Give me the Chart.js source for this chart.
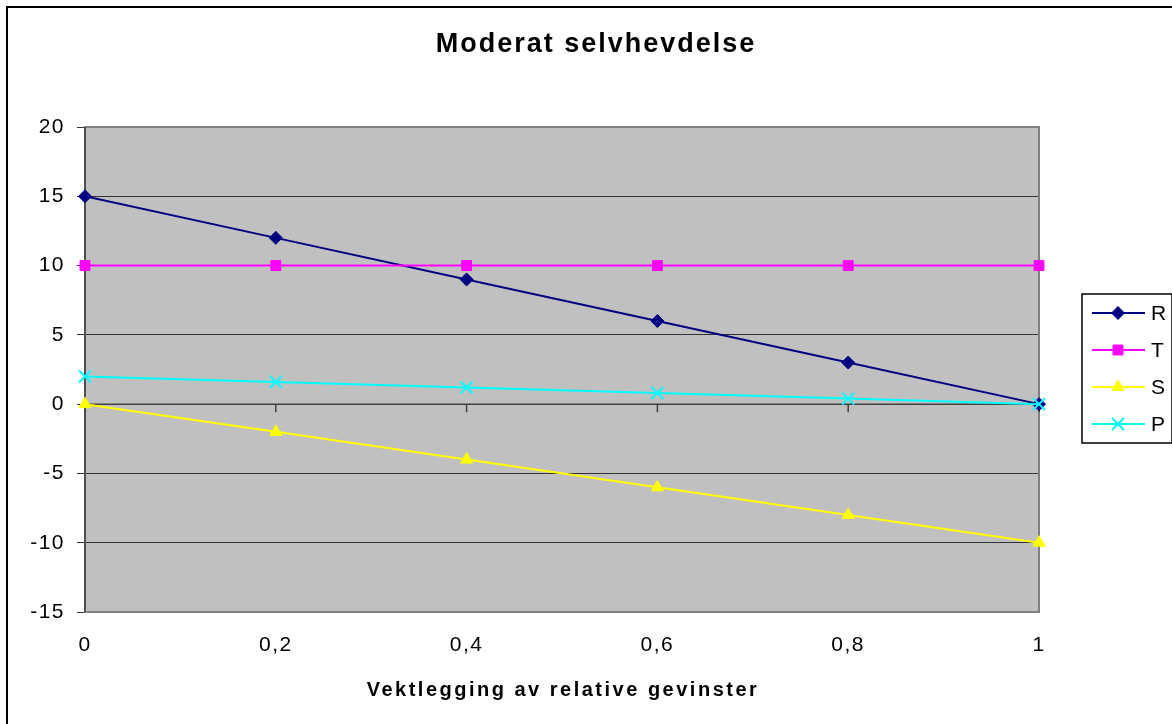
<!DOCTYPE html>
<html>
<head>
<meta charset="utf-8">
<script src="https://cdn.jsdelivr.net/npm/chart.js@4.4.1/dist/chart.umd.min.js"></script>
<style>
  html, body { margin: 0; padding: 0; background: #ffffff; }
  #wrap { width: 1172px; height: 724px; position: relative; }
</style>
</head>
<body>
<div id="wrap"><canvas id="c" width="1172" height="724"></canvas></div>
<script>
// ---- data ----
const chartTitle = 'Moderat selvhevdelse';
const xAxisTitle = 'Vektlegging av relative gevinster';
const xTickLabels = ['0', '0,2', '0,4', '0,6', '0,8', '1'];
const seriesNames = ['R', 'T', 'S', 'P'];
const seriesR = [15, 12, 9, 6, 3, 0];
const seriesT = [10, 10, 10, 10, 10, 10];
const seriesS = [0, -2, -4, -6, -8, -10];
const seriesP = [2, 1.6, 1.2, 0.8, 0.4, 0];
const yMin = -15, yMax = 20, yStep = 5;

// ---- styles ----
const FONT = "'Liberation Sans', Arial, sans-serif";
const TICK_SPACING = '1.5px';
const styles = [
  { color: '#000080', point: 'diamond', radius: 6.5 },
  { color: '#FF00FF', point: 'square', radius: 7 },
  { color: '#FFFF00', point: 'triangle', radius: 7 },
  { color: '#00FFFF', point: 'crossRot', radius: 8.5 }
];
const chartPointStyle = { diamond: 'rectRot', square: 'rect', triangle: 'triangle', crossRot: 'crossRot' };
const seriesValues = [seriesR, seriesT, seriesS, seriesP];

function drawMarker(ctx, kind, x, y, r, color) {
  ctx.save();
  ctx.fillStyle = color; ctx.strokeStyle = color; ctx.lineWidth = 1;
  ctx.beginPath();
  if (kind === 'diamond') {
    ctx.moveTo(x, y - r); ctx.lineTo(x + r, y); ctx.lineTo(x, y + r); ctx.lineTo(x - r, y); ctx.closePath();
    ctx.fill(); ctx.stroke();
  } else if (kind === 'square') {
    const s = r * Math.SQRT1_2;
    ctx.rect(x - s, y - s, 2 * s, 2 * s); ctx.fill(); ctx.stroke();
  } else if (kind === 'triangle') {
    ctx.moveTo(x, y - r);
    ctx.lineTo(x + r * Math.sin(2 * Math.PI / 3), y - r * Math.cos(2 * Math.PI / 3));
    ctx.lineTo(x + r * Math.sin(4 * Math.PI / 3), y - r * Math.cos(4 * Math.PI / 3));
    ctx.closePath(); ctx.fill(); ctx.stroke();
  } else {
    const o = r * Math.SQRT1_2;
    ctx.lineWidth = 2;
    ctx.moveTo(x - o, y - o); ctx.lineTo(x + o, y + o);
    ctx.moveTo(x + o, y - o); ctx.lineTo(x - o, y + o);
    ctx.stroke();
  }
  ctx.restore();
}

const excelPlugin = {
  id: 'excelLook',
  beforeDraw(chart) {
    const ctx = chart.ctx, a = chart.chartArea;
    ctx.save();
    ctx.fillStyle = '#ffffff';
    ctx.fillRect(0, 0, chart.width, chart.height);
    ctx.fillStyle = '#C0C0C0';
    ctx.fillRect(a.left, a.top, a.right - a.left, a.bottom - a.top);
    ctx.restore();
    ctx.letterSpacing = TICK_SPACING;
  },
  beforeDatasetsDraw(chart) {
    const ctx = chart.ctx, a = chart.chartArea;
    const xs = chart.scales.x, ys = chart.scales.y;
    ctx.save();
    ctx.strokeStyle = '#808080'; ctx.lineWidth = 2;
    ctx.strokeRect(a.left, a.top, a.right - a.left, a.bottom - a.top);
    ctx.strokeStyle = '#404040'; ctx.lineWidth = 1.5;
    ctx.beginPath(); ctx.moveTo(a.left, a.top); ctx.lineTo(a.left, a.bottom); ctx.stroke();
    const y0 = ys.getPixelForValue(0);
    ctx.beginPath(); ctx.moveTo(a.left, y0); ctx.lineTo(a.right, y0);
    for (let i = 0; i < xTickLabels.length; i++) {
      const px = xs.getPixelForValue(i);
      ctx.moveTo(px, y0); ctx.lineTo(px, y0 + 8);
    }
    ctx.stroke();
    ctx.restore();
  },
  afterDraw(chart) {
    const ctx = chart.ctx, a = chart.chartArea;
    ctx.save();
    ctx.fillStyle = '#000000';
    ctx.textAlign = 'center'; ctx.textBaseline = 'alphabetic';
    ctx.letterSpacing = '2px';
    ctx.font = 'bold 27px ' + FONT;
    ctx.fillText(chartTitle, 596, 52);
    ctx.letterSpacing = '2.5px';
    ctx.font = 'bold 20px ' + FONT;
    ctx.fillText(xAxisTitle, (a.left + a.right) / 2 + 1, 696);
    // legend
    ctx.letterSpacing = '0px';
    ctx.strokeStyle = '#000000'; ctx.lineWidth = 1.5;
    ctx.strokeRect(1082, 294, 90, 149);
    ctx.font = '21px ' + FONT;
    ctx.textAlign = 'left'; ctx.textBaseline = 'middle';
    const rows = [313, 350, 387, 424];
    seriesNames.forEach((name, i) => {
      const st = styles[i], y = rows[i];
      ctx.strokeStyle = st.color; ctx.lineWidth = 2;
      ctx.beginPath(); ctx.moveTo(1092, y); ctx.lineTo(1145, y); ctx.stroke();
      drawMarker(ctx, st.point, 1118, y, st.radius, st.color);
      ctx.fillStyle = '#000000';
      ctx.fillText(name, 1151, y + 1);
    });
    ctx.strokeStyle = '#000000'; ctx.lineWidth = 2;
    ctx.beginPath();
    ctx.moveTo(7, chart.height + 5); ctx.lineTo(7, 7); ctx.lineTo(chart.width + 5, 7);
    ctx.stroke();
    ctx.restore();
    ctx.letterSpacing = '0px';
  }
};

const datasets = seriesNames.map((name, i) => ({
  label: name,
  data: seriesValues[i],
  borderColor: styles[i].color,
  backgroundColor: styles[i].color,
  borderWidth: 2,
  pointStyle: chartPointStyle[styles[i].point],
  pointRadius: styles[i].radius,
  pointHoverRadius: styles[i].radius,
  pointBorderWidth: styles[i].point === 'crossRot' ? 2 : 1,
  pointBorderColor: styles[i].color,
  pointBackgroundColor: styles[i].color,
  tension: 0,
  fill: false,
  clip: false,
  order: seriesNames.length - i
}));

new Chart(document.getElementById('c'), {
  type: 'line',
  data: { labels: xTickLabels, datasets },
  options: {
    responsive: false,
    animation: false,
    events: [],
    layout: { padding: { left: 7, top: 127, right: 133, bottom: 0 } },
    plugins: { legend: { display: false }, title: { display: false }, tooltip: { enabled: false } },
    scales: {
      x: {
        type: 'category',
        offset: false,
        grid: { display: false, drawTicks: false },
        border: { display: false },
        ticks: { color: '#000000', font: { family: FONT, size: 21 }, padding: 21, maxRotation: 0, autoSkip: false },
        afterFit(scale) { scale.height = 112; }
      },
      y: {
        min: yMin, max: yMax,
        ticks: { stepSize: yStep, color: '#000000', font: { family: FONT, size: 21 }, padding: 12 },
        grid: { color: '#333333', lineWidth: 1, tickLength: 8, tickColor: '#333333' },
        border: { display: false },
        afterFit(scale) { scale.width = 78; }
      }
    }
  },
  plugins: [excelPlugin]
});
</script>
</body>
</html>
